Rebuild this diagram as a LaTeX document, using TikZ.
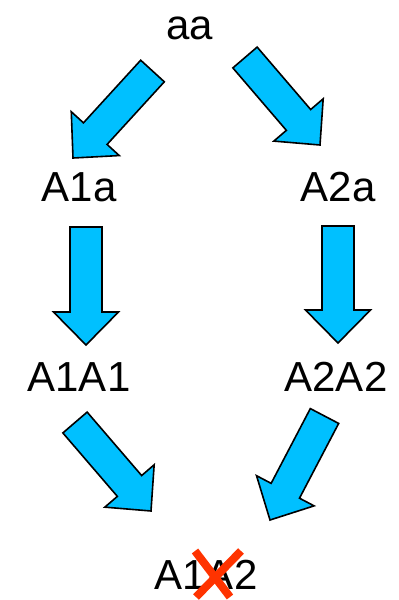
\documentclass[tikz,border=0pt]{standalone}
\usepackage{fontspec}
\setmainfont{Liberation Sans}
\usetikzlibrary{calc}
\definecolor{arrowblue}{RGB}{0,192,255}
\definecolor{crossred}{RGB}{255,51,0}
\tikzset{
  label/.style={anchor=base, inner sep=0pt, font=\fontsize{42}{50}\selectfont},
  % block arrow: shaft 32 wide, head 65 wide and 33 long
  blockarrow/.style={draw=black, line width=1.6pt, fill=arrowblue, line join=miter,
    to path={
      ($(\tikztostart)!16pt!90:(\tikztotarget)$)
      -- ($($(\tikztotarget)!33pt!(\tikztostart)$)!16pt!90:(\tikztotarget)$)
      -- ($($(\tikztotarget)!33pt!(\tikztostart)$)!32.5pt!90:(\tikztotarget)$)
      -- (\tikztotarget)
      -- ($($(\tikztotarget)!33pt!(\tikztostart)$)!32.5pt!-90:(\tikztotarget)$)
      -- ($($(\tikztotarget)!33pt!(\tikztostart)$)!16pt!-90:(\tikztotarget)$)
      -- ($(\tikztostart)!16pt!-90:(\tikztotarget)$)
      -- cycle}},
  cross/.style={draw=crossred, line width=8pt, line cap=butt}
}
\begin{document}
\begin{tikzpicture}[x=1pt, y=-1pt]
  \useasboundingbox (0,0) rectangle (399,600);

  % texts
  \node[label] (aa)   at (190,39)  {aa};
  \node[label] (a1a)  at (79,201)  {A1a};
  \node[label] (a2a)  at (338,201) {A2a};
  \node[label] (a1a1) at (79,391)  {A1A1};
  \node[label] (a2a2) at (336,391) {A2A2};
  \node[label] (a1a2) at (206,589) {A1A2};

  % arrow ends
  \coordinate (s1) at (152.5,71);  \coordinate (e1) at (73,158);
  \coordinate (s2) at (245,57.5);  \coordinate (e2) at (320,145);
  \coordinate (s3) at (86,227);    \coordinate (e3) at (86,345);
  \coordinate (s4) at (338,226);   \coordinate (e4) at (338,343);
  \coordinate (s5) at (75,422.5);  \coordinate (e5) at (151,511);
  \coordinate (s6) at (324.5,416); \coordinate (e6) at (270,520);

  \path[blockarrow] (s1) to (e1);
  \path[blockarrow] (s2) to (e2);
  \path[blockarrow] (s3) to (e3);
  \path[blockarrow] (s4) to (e4);
  \path[blockarrow] (s5) to (e5);
  \path[blockarrow] (s6) to (e6);

  % crossing-out mark
  \coordinate (x1) at (195,551); \coordinate (x2) at (230,597);
  \coordinate (x3) at (241,551); \coordinate (x4) at (196,597);
  \draw[cross] (x1) -- (x2);
  \draw[cross] (x3) -- (x4);
\end{tikzpicture}
\end{document}
